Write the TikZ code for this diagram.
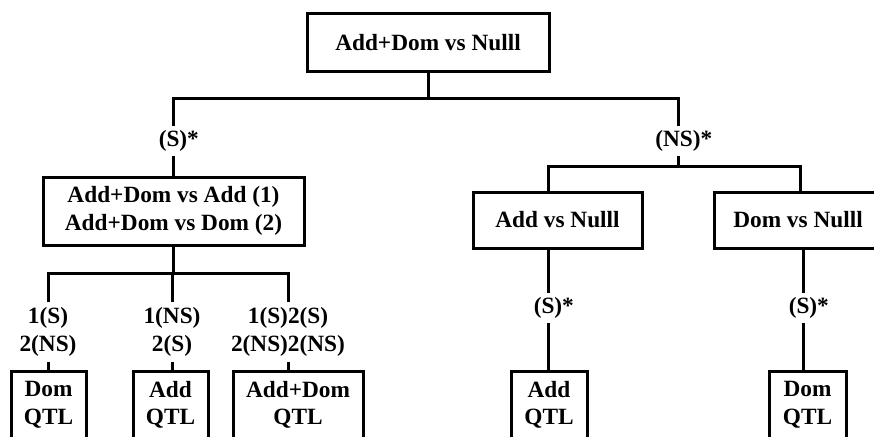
\documentclass[tikz,border=0pt]{standalone}
\usepackage{fontspec}
\setmainfont{Liberation Serif}
\newcommand\diagfont{\bfseries\fontsize{23.3}{27.5}\selectfont}
\begin{document}
\begin{tikzpicture}[x=1pt,y=-1pt,
  tbox/.style={draw,line width=3pt,rectangle,inner sep=0pt,align=center,font=\diagfont},
  lab/.style={inner xsep=0pt,inner ysep=4pt,align=center,font=\diagfont},
  conn/.style={line width=3pt}]
\clip (0,0) rectangle (874,436);
% boxes
\node[tbox,minimum width=242pt,minimum height=57pt] (top) at (428,42.5) {Add+Dom vs Nulll};
\node[tbox,minimum width=261pt,minimum height=68pt] (mid) at (173.5,211) {Add+Dom vs Add (1)\\Add+Dom vs Dom (2)};
\node[tbox,minimum width=169pt,minimum height=56pt] (addN) at (557.5,220) {Add vs Nulll};
\node[tbox,minimum width=168pt,minimum height=56pt] (domN) at (798,220) {Dom vs Nulll};
\node[tbox,minimum width=75pt,minimum height=68pt] (b1) at (48.5,405) {Dom\\QTL};
\node[tbox,minimum width=75pt,minimum height=68pt] (b2) at (170.5,405) {Add\\QTL};
\node[tbox,minimum width=130pt,minimum height=68pt] (b3) at (298,405) {Add+Dom\\QTL};
\node[tbox,minimum width=76pt,minimum height=68pt] (addQ) at (549,405) {Add\\QTL};
\node[tbox,minimum width=77pt,minimum height=68pt] (domQ) at (807.5,405) {Dom\\QTL};
% labels
\node[lab] (lS) at (173,141) {(S)\rlap{*}};
\node[lab] (lNS) at (678,141) {(NS)\rlap{*}};
\node[lab] (lA) at (548,308) {(S)\rlap{*}};
\node[lab] (lD) at (803,308) {(S)\rlap{*}};
\node[lab,inner ysep=5pt] (l1) at (48,332) {1(S)\\2(NS)};
\node[lab,inner ysep=5pt] (l2) at (172,332) {1(NS)\\2(S)};
\node[lab,inner ysep=5pt] (l3) at (288,332) {1(S)2(S)\\2(NS)2(NS)};
% junctions
\coordinate (t1) at (428,98);
\coordinate (t2) at (678,166);
\coordinate (ra) at (548,166);
\coordinate (rd) at (800,166);
\coordinate (m1) at (173,273);
% connectors
\draw[conn] (top.south) -- (t1);
\draw[conn] (lS.north) -- (lS.north |- t1) -- (lNS.north |- t1) -- (lNS.north);
\draw[conn] (lS.south) -- (lS.south |- mid.north);
\draw[conn] (lNS.south) -- (t2);
\draw[conn] (addN.north -| ra) -- (ra) -- (rd) -- (domN.north -| rd);
\draw[conn] (addN.south -| lA) -- (lA.north);
\draw[conn] (lA.south) -- (lA.south |- addQ.north);
\draw[conn] (domN.south -| lD) -- (lD.north);
\draw[conn] (lD.south) -- (lD.south |- domQ.north);
\draw[conn] (mid.south -| m1) -- (m1);
\draw[conn] (l1.north) -- (l1.north |- m1) -- (l3.north |- m1) -- (l3.north);
\draw[conn] (l2.north) -- (l2.north |- m1);
\draw[conn] (l1.south) -- (l1.south |- b1.north);
\draw[conn] (l2.south) -- (l2.south |- b2.north);
\draw[conn] (l3.south) -- (l3.south |- b3.north);
\end{tikzpicture}
\end{document}
